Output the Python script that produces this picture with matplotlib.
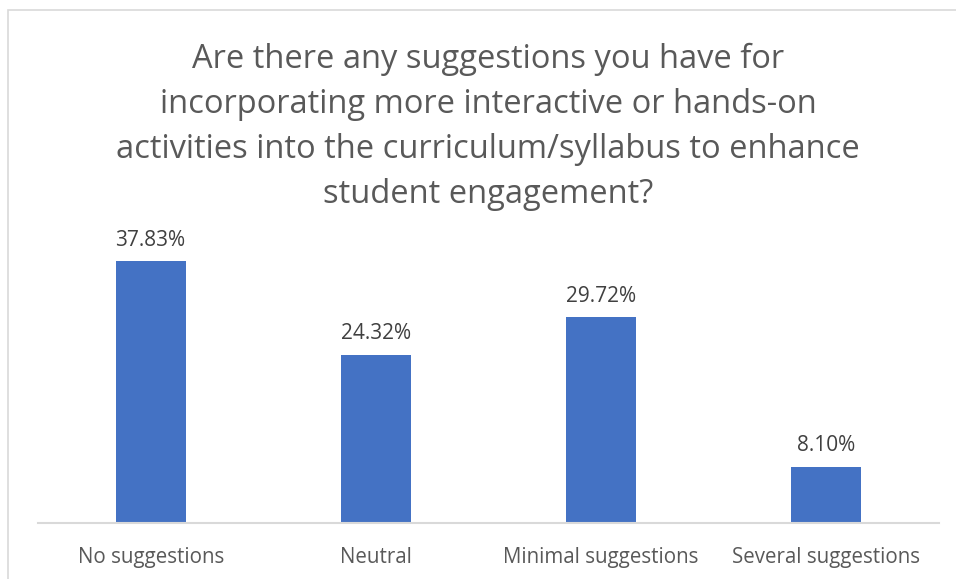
import matplotlib
matplotlib.use("Agg")
import matplotlib.pyplot as plt
from matplotlib.patches import Rectangle

categories = ["No suggestions", "Neutral", "Minimal suggestions", "Several suggestions"]
values = [37.83, 24.32, 29.72, 8.10]
labels = ["37.83%", "24.32%", "29.72%", "8.10%"]
title = ("Are there any suggestions you have for\n"
         "incorporating more interactive or hands-on\n"
         "activities into the curriculum/syllabus to enhance\n"
         "student engagement?")

W, H = 956, 579
fig = plt.figure(figsize=(W / 100, H / 100), dpi=100)
fig.patch.set_facecolor("white")

# outer border (chart area frame, partially cropped)
fig.add_artist(Rectangle((8 / W, -0.1), 1.2, 1 - 10 / H + 0.1, transform=fig.transFigure,
                         fill=False, edgecolor="#D9D9D9", linewidth=1.2))

ax_left, ax_right = 38, 939
ax_bottom, ax_top = 523, 246
ax = fig.add_axes([ax_left / W, 1 - ax_bottom / H, (ax_right - ax_left) / W, (ax_bottom - ax_top) / H])
x = range(len(categories))
ax.bar(x, values, width=0.31, color="#4472C4")
ax.set_xlim(-0.5, len(categories) - 0.5)
ax.set_ylim(0, 40)
for xi, v, lab in zip(x, values, labels):
    ax.annotate(lab, (xi, v), xytext=(0, 7.5), textcoords="offset points",
                ha="center", va="bottom", fontsize=15, color="#404040", family="Open Sans")
ax.set_xticks(list(x))
ax.set_xticklabels(categories, fontsize=14.8, color="#595959", family="Open Sans")
ax.tick_params(axis="x", length=0, pad=17)
ax.set_yticks([])
for s in ["top", "right", "left"]:
    ax.spines[s].set_visible(False)
ax.spines["bottom"].set_color("#D9D9D9")
ax.spines["bottom"].set_linewidth(1.5)

fig.text(488 / W, 1 - 127 / H, title, ha="center", va="center", fontsize=23.5,
         color="#595959", family="Open Sans", linespacing=1.47)

fig.savefig("out.png", dpi=100)
